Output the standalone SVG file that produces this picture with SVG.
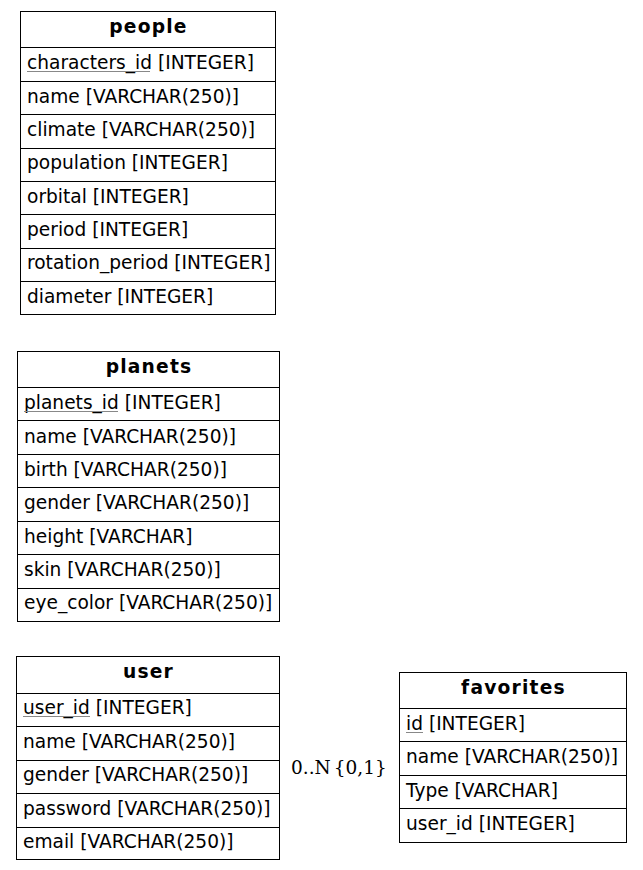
<svg xmlns="http://www.w3.org/2000/svg" width="643" height="870" viewBox="0 0 643 870">
<style>
.box{fill:#fff;stroke:#000;stroke-width:1}
.ln{stroke:#000;stroke-width:1}
.h{font-family:"DejaVu Sans",sans-serif;font-size:18.67px;font-weight:bold;letter-spacing:1.2px;text-anchor:middle;fill:#000}
.t{font-family:"DejaVu Sans",sans-serif;font-size:18.6px;fill:#000}
.u{stroke:#888;stroke-width:1}
.lbl{font-family:"DejaVu Serif",serif;font-size:18.5px;fill:#000}
</style>
<rect width="643" height="870" fill="#fff"/>
<g id="people">
<rect class="box" x="20.5" y="11.5" width="255" height="303"/>
<line class="ln" x1="20.5" y1="47.5" x2="275.5" y2="47.5"/>
<line class="ln" x1="20.5" y1="81.5" x2="275.5" y2="81.5"/>
<line class="ln" x1="20.5" y1="114.5" x2="275.5" y2="114.5"/>
<line class="ln" x1="20.5" y1="148.5" x2="275.5" y2="148.5"/>
<line class="ln" x1="20.5" y1="181.5" x2="275.5" y2="181.5"/>
<line class="ln" x1="20.5" y1="214.5" x2="275.5" y2="214.5"/>
<line class="ln" x1="20.5" y1="248.5" x2="275.5" y2="248.5"/>
<line class="ln" x1="20.5" y1="281.5" x2="275.5" y2="281.5"/>
<text class="h" x="148.5" y="33">people</text>
<text class="t" x="27" y="69">characters_id [INTEGER]</text>
<line class="u" x1="27" y1="71.5" x2="150" y2="71.5"/>
<text class="t" x="27" y="103">name [VARCHAR(250)]</text>
<text class="t" x="27" y="136">climate [VARCHAR(250)]</text>
<text class="t" x="27" y="169">population [INTEGER]</text>
<text class="t" x="27" y="203">orbital [INTEGER]</text>
<text class="t" x="27" y="236">period [INTEGER]</text>
<text class="t" x="27" y="269">rotation_period [INTEGER]</text>
<text class="t" x="27" y="303">diameter [INTEGER]</text>
</g>
<g id="planets">
<rect class="box" x="17.5" y="351.5" width="262" height="270"/>
<line class="ln" x1="17.5" y1="387.5" x2="279.5" y2="387.5"/>
<line class="ln" x1="17.5" y1="420.5" x2="279.5" y2="420.5"/>
<line class="ln" x1="17.5" y1="454.5" x2="279.5" y2="454.5"/>
<line class="ln" x1="17.5" y1="487.5" x2="279.5" y2="487.5"/>
<line class="ln" x1="17.5" y1="521.5" x2="279.5" y2="521.5"/>
<line class="ln" x1="17.5" y1="554.5" x2="279.5" y2="554.5"/>
<line class="ln" x1="17.5" y1="588.5" x2="279.5" y2="588.5"/>
<text class="h" x="149" y="373">planets</text>
<text class="t" x="24" y="409">planets_id [INTEGER]</text>
<line class="u" x1="24" y1="411.5" x2="118" y2="411.5"/>
<text class="t" x="24" y="443">name [VARCHAR(250)]</text>
<text class="t" x="24" y="476">birth [VARCHAR(250)]</text>
<text class="t" x="24" y="509">gender [VARCHAR(250)]</text>
<text class="t" x="24" y="543">height [VARCHAR]</text>
<text class="t" x="24" y="576">skin [VARCHAR(250)]</text>
<text class="t" x="24" y="609">eye_color [VARCHAR(250)]</text>
</g>
<g id="user">
<rect class="box" x="16.5" y="656.5" width="263" height="203"/>
<line class="ln" x1="16.5" y1="693.5" x2="279.5" y2="693.5"/>
<line class="ln" x1="16.5" y1="726.5" x2="279.5" y2="726.5"/>
<line class="ln" x1="16.5" y1="760.5" x2="279.5" y2="760.5"/>
<line class="ln" x1="16.5" y1="793.5" x2="279.5" y2="793.5"/>
<line class="ln" x1="16.5" y1="827.5" x2="279.5" y2="827.5"/>
<text class="h" x="148.5" y="678">user</text>
<text class="t" x="23" y="714">user_id [INTEGER]</text>
<line class="u" x1="23" y1="716.5" x2="90" y2="716.5"/>
<text class="t" x="23" y="748">name [VARCHAR(250)]</text>
<text class="t" x="23" y="781">gender [VARCHAR(250)]</text>
<text class="t" x="23" y="815">password [VARCHAR(250)]</text>
<text class="t" x="23" y="848">email [VARCHAR(250)]</text>
</g>
<g id="favorites">
<rect class="box" x="399.5" y="672.5" width="227" height="170"/>
<line class="ln" x1="399.5" y1="708.5" x2="626.5" y2="708.5"/>
<line class="ln" x1="399.5" y1="741.5" x2="626.5" y2="741.5"/>
<line class="ln" x1="399.5" y1="775.5" x2="626.5" y2="775.5"/>
<line class="ln" x1="399.5" y1="808.5" x2="626.5" y2="808.5"/>
<text class="h" x="513.5" y="694">favorites</text>
<text class="t" x="406" y="730">id [INTEGER]</text>
<line class="u" x1="406" y1="732.5" x2="423" y2="732.5"/>
<text class="t" x="406" y="763">name [VARCHAR(250)]</text>
<text class="t" x="406" y="797">Type [VARCHAR]</text>
<text class="t" x="406" y="830">user_id [INTEGER]</text>
</g>
<g id="connectors">
<text class="lbl" x="291" y="774">0..N<tspan dx="3">{0,1}</tspan></text>
</g>
</svg>
